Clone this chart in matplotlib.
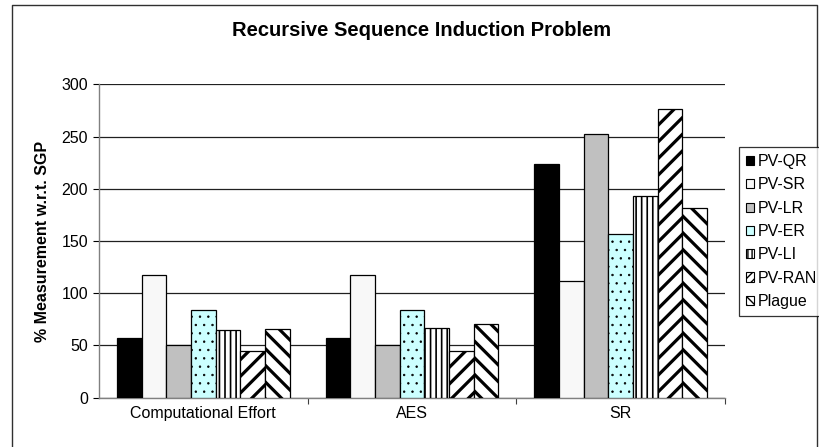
import matplotlib
matplotlib.use("Agg")
import matplotlib.pyplot as plt
import numpy as np
from matplotlib.lines import Line2D
from matplotlib.patches import Patch

plt.rcParams['font.family'] = ['Liberation Sans', 'DejaVu Sans']

categories = ["Computational Effort", "AES", "SR"]
series_names = ["PV-QR", "PV-SR", "PV-LR", "PV-ER", "PV-LI", "PV-RAN", "Plague"]
pv_qr = [57, 57, 224]
pv_sr = [117, 117, 112]
pv_lr = [50, 50, 252]
pv_er = [84, 84, 157]
pv_li = [65, 67, 193]
pv_ran = [45, 45, 276]
plague = [66, 71, 182]
yticks = [0, 50, 100, 150, 200, 250, 300]
title = "Recursive Sequence Induction Problem"
ylabel = "% Measurement w.r.t. SGP"

series_values = [pv_qr, pv_sr, pv_lr, pv_er, pv_li, pv_ran, plague]
styles = [
    dict(color="#000000", hatch=None, hlw=1.0, lhatch=None),
    dict(color="#f8f8f8", hatch=None, hlw=1.0, lhatch=None),
    dict(color="#c0c0c0", hatch=None, hlw=1.0, lhatch=None),
    dict(color="#ccffff", hatch="..", hlw=0.5, lhatch=None),
    dict(color="#ffffff", hatch="|||", hlw=1.2, lhatch="||||"),
    dict(color="#ffffff", hatch="//", hlw=2.3, lhatch="////"),
    dict(color="#ffffff", hatch="\\\\", hlw=2.3, lhatch="\\\\\\\\"),
]

W, H = 820, 447
fig = plt.figure(figsize=(W / 100, H / 100), dpi=100)
ax = fig.add_axes([99 / W, 1 - 397.7 / H, (725 - 99) / W, (397.7 - 84.3) / H])

x = np.arange(len(categories))
w = 0.1183
handles = []
for i, (name, vals, st) in enumerate(zip(series_names, series_values, styles)):
    with plt.rc_context({'hatch.linewidth': st['hlw']}):
        bars = ax.bar(x + (i - 3) * w, vals, width=w, color=st['color'],
                      edgecolor="black", linewidth=0.9, hatch=st['hatch'],
                      zorder=3, label=name)
        for b in bars:
            if hasattr(b, 'set_hatch_linewidth'):
                b.set_hatch_linewidth(st['hlw'])
    with plt.rc_context({'hatch.linewidth': 1.0}):
        proxy = Patch(facecolor=st['color'], edgecolor='black', linewidth=0.8,
                      hatch=st['lhatch'])
        if hasattr(proxy, 'set_hatch_linewidth'):
            proxy.set_hatch_linewidth(1.0)
    handles.append(proxy)

ax.set_xlim(-0.5, 2.5)
ax.set_ylim(0, 300)
ax.set_yticks(yticks)
ax.tick_params(axis='y', length=4.5, width=0.8, color='black', labelsize=11.5, pad=3.5)
ax.set_xticks(x)
ax.set_xticklabels(categories, fontsize=11.5)
ax.tick_params(axis='x', which='major', length=0, pad=6)
ax.set_xticks([0.5, 1.5, 2.5], minor=True)
ax.tick_params(axis='x', which='minor', length=4.5, width=0.8, color='#404040')
ax.grid(axis='y', color='#202020', linewidth=0.9, zorder=1)
ax.set_axisbelow(True)
for s in ['top', 'right']:
    ax.spines[s].set_visible(False)
for s in ['left', 'bottom']:
    ax.spines[s].set_color('#808080')
    ax.spines[s].set_linewidth(1.0)
ax.set_ylabel(ylabel, fontsize=11.5, fontweight='bold', labelpad=8)

fig.text(422 / W, 1 - 31 / H, title, fontsize=14.5, fontweight='bold',
         ha='center', va='center')

# outer chart frame
frame = Line2D([12 / W, 12 / W, 817 / W, 817 / W],
               [-0.05, 1 - 5 / H, 1 - 5 / H, -0.05],
               transform=fig.transFigure, color='#303030', linewidth=1.0)
fig.add_artist(frame)

leg = fig.legend(handles=handles, labels=series_names, loc='upper left',
                 bbox_to_anchor=(739 / W, 1 - 147 / H),
                 bbox_transform=fig.transFigure, borderaxespad=0,
                 frameon=True, fancybox=False, edgecolor='black',
                 fontsize=11.5, handlelength=0.5, handleheight=0.5,
                 handletextpad=0.2, labelspacing=0.52, borderpad=0.45)
leg.get_frame().set_linewidth(0.9)
leg.set_zorder(10)

fig.savefig("out.png", dpi=100)
